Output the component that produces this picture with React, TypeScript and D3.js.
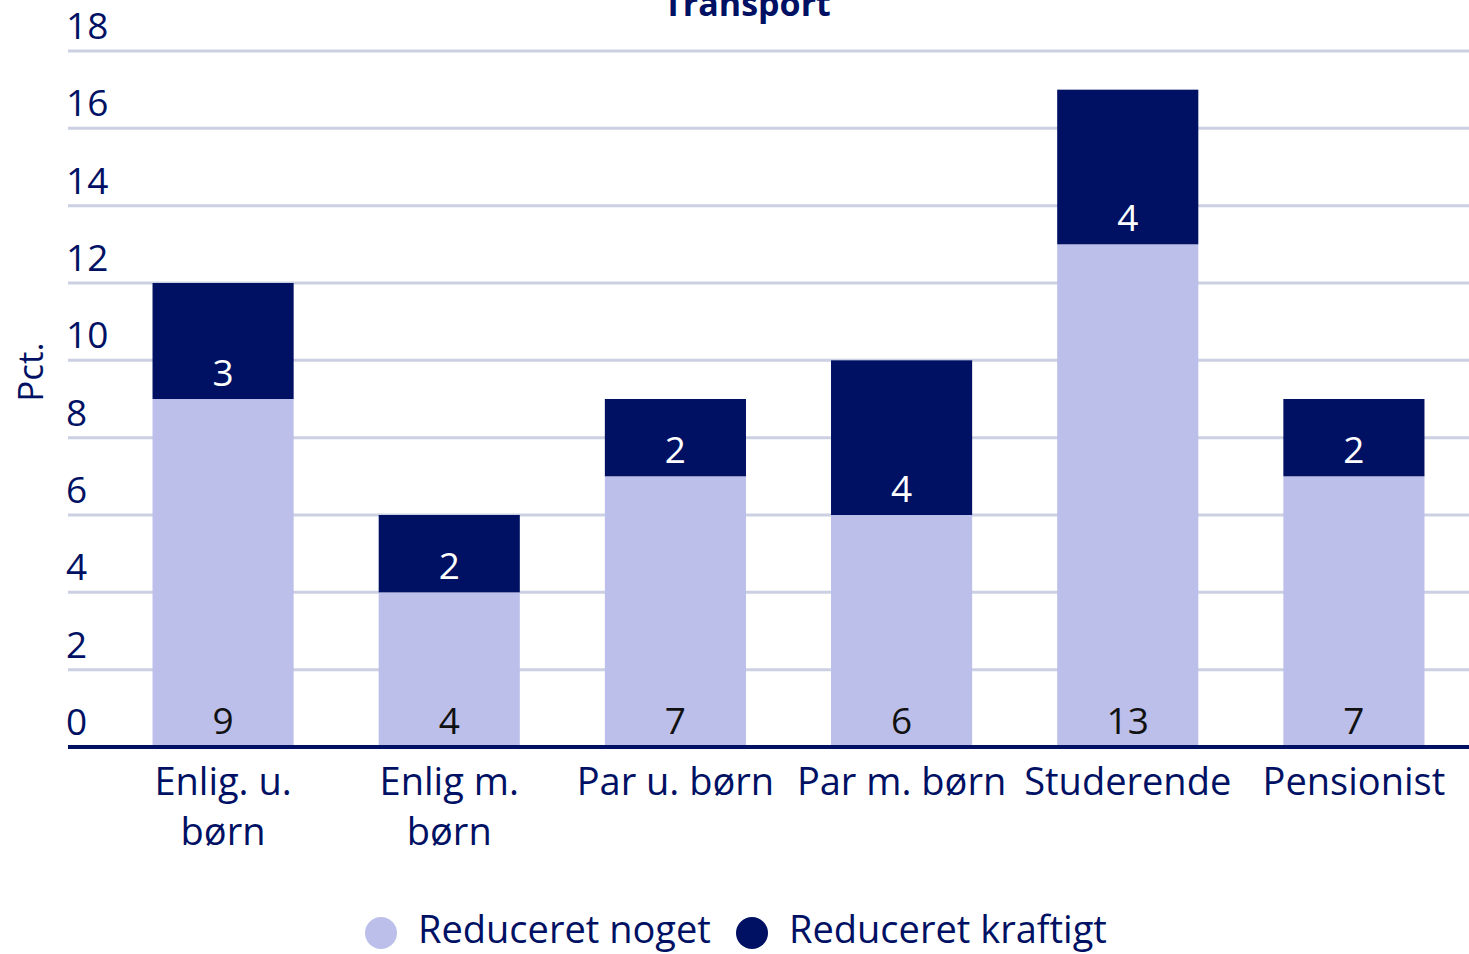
import React from "react"
import * as d3 from "d3"

const categories = ["Enlig. u. børn", "Enlig m. børn", "Par u. børn", "Par m. børn", "Studerende", "Pensionist"]
const categoryLines = [["Enlig. u.", "børn"], ["Enlig m.", "børn"], ["Par u. børn"], ["Par m. børn"], ["Studerende"], ["Pensionist"]]
const reduceretNoget = [9, 4, 7, 6, 13, 7]
const reduceretKraftigt = [3, 2, 2, 4, 4, 2]
const yTicks = [0, 2, 4, 6, 8, 10, 12, 14, 16, 18]
const seriesNames = ["Reduceret noget", "Reduceret kraftigt"]

const W = 1469
const H = 954
const NAVY = "#001164"
const LIGHT = "#bcbfea"
const GRID = "#cbd0e3"
const FONT = "'Open Sans', Lato, sans-serif"

const App = () => {
    const x = d3
        .scaleBand()
        .domain(categories)
        .range([110, 1467])
        .paddingInner(0.376)
        .paddingOuter(0.188)

    const y = d3.scaleLinear().domain([0, 18]).range([747, 51])

    const stacked = categories.map((c, i) => ({
        cat: c,
        lines: categoryLines[i],
        a: reduceretNoget[i],
        b: reduceretKraftigt[i],
    }))

    return (
        <svg
            width={W}
            height={H}
            style={{ position: "absolute", left: 0, top: 0, fontFamily: FONT }}
        >
            <text x={747} y={16} textAnchor="middle" fontSize={34} fontWeight={700} fill={NAVY}>
                Transport
            </text>

            {yTicks.map((t) => (
                <g key={t}>
                    {t > 0 && (
                        <line x1={68} x2={W} y1={y(t)} y2={y(t)} stroke={GRID} strokeWidth={3} />
                    )}
                    <text x={66} y={y(t) - 12} fontSize={37} fill={NAVY}>
                        {t}
                    </text>
                </g>
            ))}

            <text
                transform={`translate(43,372) rotate(-90)`}
                textAnchor="middle"
                fontSize={35}
                fill={NAVY}
            >
                Pct.
            </text>

            {stacked.map((d) => {
                const bx = x(d.cat) as number
                const bw = x.bandwidth()
                const cx = bx + bw / 2
                return (
                    <g key={d.cat}>
                        <rect x={bx} y={y(d.a)} width={bw} height={y(0) - y(d.a)} fill={LIGHT} />
                        <rect x={bx} y={y(d.a + d.b)} width={bw} height={y(d.a) - y(d.a + d.b)} fill={NAVY} />
                        <text x={cx} y={y(0) - 13} textAnchor="middle" fontSize={37} fill="#111">
                            {d.a}
                        </text>
                        <text x={cx} y={y(d.a) - 13} textAnchor="middle" fontSize={37} fill="#fff">
                            {d.b}
                        </text>
                        {d.lines.map((l, j) => (
                            <text key={j} x={cx} y={795 + j * 50} textAnchor="middle" fontSize={38} fill={NAVY}>
                                {l}
                            </text>
                        ))}
                    </g>
                )
            })}

            <line x1={68} x2={W} y1={y(0)} y2={y(0)} stroke={NAVY} strokeWidth={4} />

            {seriesNames.map((s, i) => {
                const lx = [381, 752][i]
                return (
                    <g key={s}>
                        <circle cx={lx} cy={933} r={16} fill={i === 0 ? LIGHT : NAVY} />
                        <text x={lx + 37} y={943} fontSize={38} fill={NAVY}>
                            {s}
                        </text>
                    </g>
                )
            })}
        </svg>
    )
}

export default App
